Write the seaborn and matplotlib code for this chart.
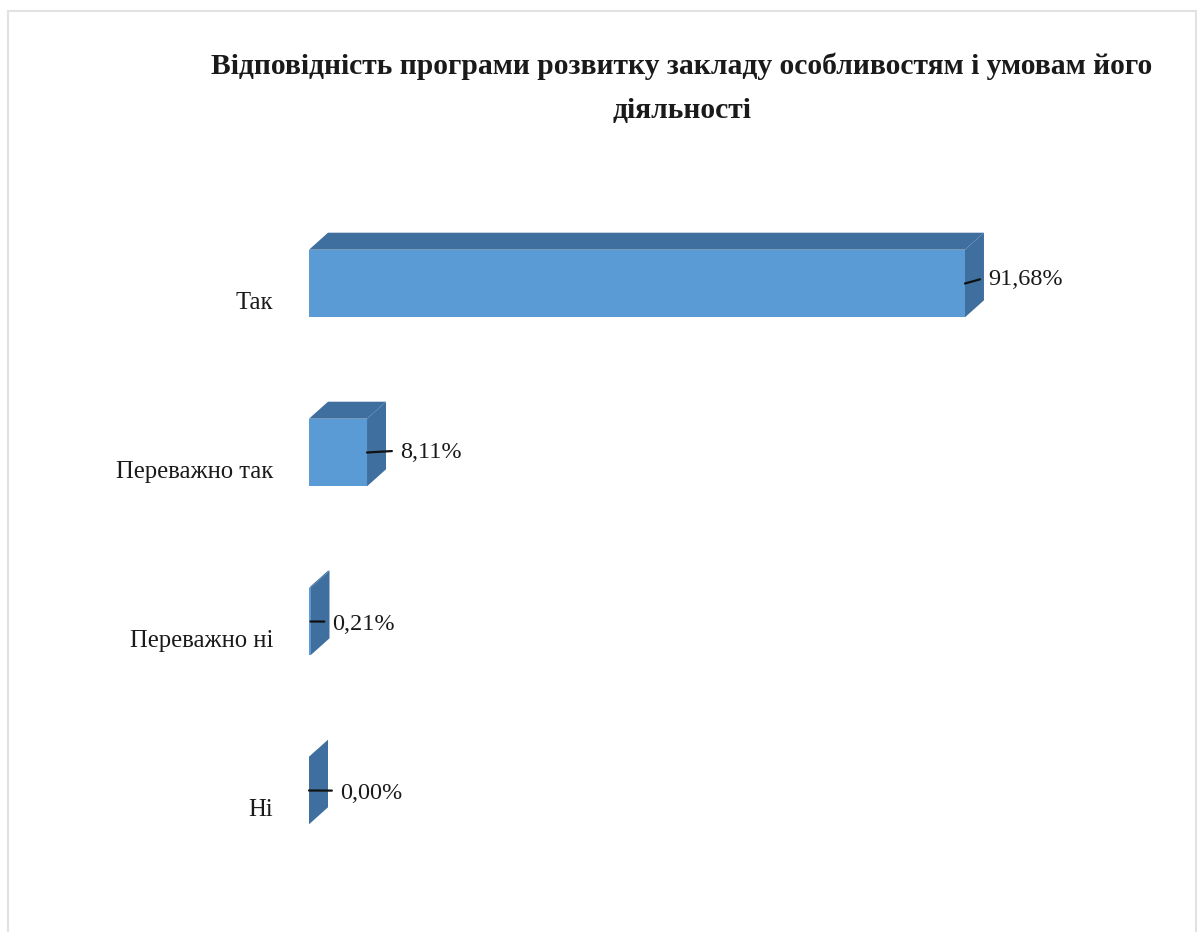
import matplotlib
matplotlib.use("Agg")
import matplotlib.pyplot as plt
import matplotlib.transforms as mtrans
from matplotlib.patches import Polygon, Rectangle
import pandas as pd
import seaborn as sns

categories = ["Так", "Переважно так", "Переважно ні", "Ні"]
values = [91.68, 8.11, 0.21, 0.00]
value_labels = ["91,68%", "8,11%", "0,21%", "0,00%"]
title = "Відповідність програми розвитку закладу особливостям і умовам його\nдіяльності"

# label offsets from the bar end, in pixels
label_dx = [23, 33, 22, 31]
label_dy = [4, 0, -3, -3]
# how far the leader line rises above the bar centre, in pixels
leader_rise = [6.5, 2, 0, 0]

FRONT = "#5B9BD5"
SIDE = "#3F6F9F"
W, H = 1197, 932
PX_PER_UNIT = 7.155
DEPTH_X, DEPTH_Y = 19, 17

sns.set_style("white")
plt.rcParams["font.family"] = ["Liberation Serif", "DejaVu Serif"]

df = pd.DataFrame({"category": categories, "value": values})

fig = plt.figure(figsize=(W / 100, H / 100), dpi=100)
ax = fig.add_axes([309 / W, 1 - 875 / H, (1190 - 309) / W, (875 - 199) / H])

sns.barplot(data=df, y="category", x="value", orient="h", width=0.4, color=FRONT,
            saturation=1, linewidth=0, edgecolor="none", ax=ax, zorder=3)
ax.set_xlim(0, (1190 - 309) / PX_PER_UNIT)
ax.set_ylim(3.5, -0.5)
ax.set_xlabel("")
ax.set_ylabel("")
ax.set_xticks([])
ax.tick_params(axis="y", length=0, pad=26, labelsize=17.7, labelcolor="#1a1a1a")
sns.despine(ax=ax, left=True, bottom=True)
ax.patch.set_alpha(0)

# push the category labels down to the floor of the 3D bars
shift = mtrans.ScaledTranslation(0, -17 / 100, fig.dpi_scale_trans)
for lab in ax.get_yticklabels():
    lab.set_transform(lab.get_transform() + shift)

# depth in data units
dx = DEPTH_X / PX_PER_UNIT
dy = DEPTH_Y / ((875 - 199) / 4)

for bar, txt, ox, oy, rise in zip(ax.patches, value_labels, label_dx, label_dy, leader_rise):
    x1 = bar.get_width()
    y0 = bar.get_y()
    y1 = y0 + bar.get_height()
    top = [(0, y0), (x1, y0), (x1 + dx, y0 - dy), (dx, y0 - dy)]
    side = [(x1, y0), (x1 + dx, y0 - dy), (x1 + dx, y1 - dy), (x1, y1)]
    ax.add_patch(Polygon(top, closed=True, fc=SIDE, ec="none", zorder=2))
    ax.add_patch(Polygon(side, closed=True, fc=SIDE, ec="none", zorder=2))
    ax.annotate(txt, xy=(x1, (y0 + y1) / 2), xytext=(ox * 0.72, oy * 0.72),
                textcoords="offset points", ha="left", va="center",
                fontsize=17.5, color="#1a1a1a", zorder=5,
                arrowprops=dict(arrowstyle="-", color="#111111", lw=1.6,
                                shrinkA=3.5, shrinkB=0,
                                relpos=(0, 0.5 + (rise - oy) / 22)))

fig.text(682 / W, 1 - 88 / H, title, ha="center", va="center", fontsize=21.3,
         fontweight="bold", color="#1a1a1a", linespacing=1.79)

fig.add_artist(Rectangle((8 / W, -0.05), (1196 - 8) / W, 1.05 - 11 / H,
                         transform=fig.transFigure, fc="none", ec="#e2e2e2", lw=1.5))

fig.savefig("out.png", dpi=100)
